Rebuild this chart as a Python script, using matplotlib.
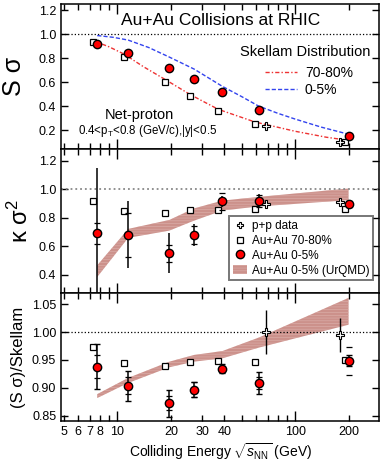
import numpy as np
import matplotlib
matplotlib.use("Agg")
import matplotlib.pyplot as plt
from matplotlib.lines import Line2D
from matplotlib.patches import Patch
from matplotlib.ticker import FixedLocator, FuncFormatter, NullFormatter

plt.rcParams['font.family'] = ['Liberation Sans', 'DejaVu Sans']
plt.rcParams['mathtext.fontset'] = 'custom'
plt.rcParams['mathtext.rm'] = 'Liberation Sans'
plt.rcParams['mathtext.it'] = 'Liberation Sans:italic'
plt.rcParams['hatch.linewidth'] = 0.4

# --- data ---
energy = [7.7, 11.5, 19.6, 27, 39, 62.4, 200]
pp_energy = [62.4, 200]

# S sigma
ss_central = [0.921, 0.846, 0.716, 0.629, 0.515, 0.364, 0.152]
ss_periph = [0.933, 0.808, 0.601, 0.482, 0.359, 0.247, 0.102]
ss_pp = [0.233, 0.097]

# Skellam expectations
skel_c_energy = [7.7, 9.5, 11.5, 15, 19.6, 27, 39, 50, 62.4, 80, 100, 140, 200]
skel_central = [0.99, 0.975, 0.952, 0.89, 0.81, 0.71, 0.565, 0.48, 0.40, 0.34, 0.292, 0.225, 0.165]
skel_p_energy = [7.3, 9.0, 10.9, 14, 18.7, 25.8, 37, 59.3, 100, 150, 187]
skel_periph = [0.948, 0.895, 0.835, 0.73, 0.62, 0.495, 0.373, 0.268, 0.19, 0.14, 0.12]

# kappa sigma^2
ks_central = [0.690, 0.679, 0.551, 0.679, 0.914, 0.918, 0.895]
ks_central_stat = [0.46, 0.235, 0.14, 0.075, 0.04, 0.05, 0.02]
ks_central_sys = [0.075, 0.155, 0.06, 0.065, 0.06, 0.04, 0.02]
ks_periph = [0.918, 0.849, 0.835, 0.853, 0.855, 0.86, 0.86]
ks_pp = [0.895, 0.907]
ks_urqmd_lo = [0.383, 0.658, 0.709, 0.779, 0.85, 0.879, 0.923]
ks_urqmd_hi = [0.465, 0.721, 0.784, 0.865, 0.92, 0.946, 1.005]

# (S sigma)/Skellam
ratio_central = [0.938, 0.904, 0.873, 0.897, 0.934, 0.909, 0.949]
ratio_central_stat = [0.04, 0.027, 0.024, 0.013, 0.008, 0.019, 0.01]
ratio_central_sys = [0.021, 0.015, 0.012, 0.013, 0.006, 0.01, 0.025]
ratio_periph = [0.974, 0.944, 0.940, 0.947, 0.948, 0.947, 0.950]
ratio_pp = [1.0, 0.995]
ratio_pp_stat = [0.04, 0.03]
ratio_urqmd_lo = [0.882, 0.909, 0.937, 0.947, 0.953, 0.972, 1.013]
ratio_urqmd_hi = [0.889, 0.918, 0.947, 0.959, 0.966, 0.99, 1.061]

# small horizontal offsets so the points don't overlap
e = np.array(energy)
e_sq = e * 0.95
e_pp = np.array(pp_energy) * np.array([1.1, 0.9])

band_color = '#cc918b'
band_hatch = '#ddb2ad'
red = '#ff0000'

fig = plt.figure(figsize=(3.89, 4.63), dpi=100)
ax1 = fig.add_axes([0.157, 0.678, 0.8175, 0.3132])
ax2 = fig.add_axes([0.157, 0.367, 0.8175, 0.311])
ax3 = fig.add_axes([0.157, 0.0907, 0.8175, 0.2765])

tick_labels = {5: '5', 6: '6', 7: '7', 8: '8', 20: '20', 30: '30', 40: '40', 200: '200'}

for ax in (ax1, ax2, ax3):
    ax.set_xscale('log')
    ax.set_xlim(4.82, 297)
    ax.xaxis.set_major_locator(FixedLocator([10, 100]))
    ax.xaxis.set_minor_locator(FixedLocator([5, 6, 7, 8, 9, 20, 30, 40, 50, 60, 70, 80, 90, 200]))
    ax.tick_params(which='both', direction='in', top=True, right=True, labelsize=9, width=1)
    ax.tick_params(which='major', length=7)
    ax.tick_params(which='minor', length=4)
    ax.tick_params(axis='y', which='major', length=5)
    for s in ax.spines.values():
        s.set_linewidth(1.1)
    if ax is ax3:
        ax.xaxis.set_major_formatter(FuncFormatter(lambda v, p: '%d' % v))
        ax.xaxis.set_minor_formatter(FuncFormatter(lambda v, p: tick_labels.get(int(round(v)), '')))
    else:
        ax.xaxis.set_major_formatter(NullFormatter())
        ax.xaxis.set_minor_formatter(NullFormatter())

# ---- top panel: S sigma ----
ax1.axhline(1.0, color='black', ls=':', lw=0.9)
ax1.plot(skel_p_energy, skel_periph, color='#ee3333', lw=1, ls=(0, (3, 1.5, 1, 1.5)), label='70-80%')
ax1.plot(skel_c_energy, skel_central, color='#3344ee', lw=1, ls=(0, (3, 1.5)), label='0-5%')
ax1.plot(e_sq, ss_periph, 's', ms=4.5, mfc='white', mec='black', mew=0.9)
ax1.plot(e_pp, ss_pp, 'P', ms=5.5, mfc='white', mec='black', mew=0.8)
ax1.plot(e, ss_central, 'o', ms=6, mfc=red, mec='black', mew=1)
ax1.set_ylim(0.041, 1.253)
ax1.set_yticks([0.2, 0.4, 0.6, 0.8, 1.0, 1.2])
ax1.set_ylabel('S σ', fontsize=18)
ax1.yaxis.set_label_coords(-0.11, 0.5)
ax1.text(0.503, 0.89, 'Au+Au Collisions at RHIC', transform=ax1.transAxes,
         ha='center', va='center', fontsize=12.5)
ax1.text(0.767, 0.669, 'Skellam Distribution', transform=ax1.transAxes,
         ha='center', va='center', fontsize=10.5)
ax1.text(0.245, 0.234, 'Net-proton', transform=ax1.transAxes,
         ha='center', va='center', fontsize=10.5)
ax1.text(0.272, 0.124, r'0.4<p$_{\rm T}$<0.8 (GeV/c),|y|<0.5', transform=ax1.transAxes,
         ha='center', va='center', fontsize=8.3)
ax1.legend(loc='upper left', bbox_to_anchor=(0.64, 0.575), frameon=False, fontsize=10,
           handlelength=2.3, handletextpad=0.6, labelspacing=0.25, borderpad=0, borderaxespad=0)

# ---- middle panel: kappa sigma^2 ----
ax2.axhline(1.0, color='#888888', ls=':', lw=1.3)
ax2.fill_between(e, ks_urqmd_lo, ks_urqmd_hi, facecolor=band_color, edgecolor=band_hatch,
                 hatch='------', lw=0)
ax2.plot(e_sq, ks_periph, 's', ms=4.5, mfc='white', mec='black', mew=0.9)
ax2.plot(e_pp, ks_pp, 'P', ms=5.5, mfc='white', mec='black', mew=0.8)
ax2.errorbar(e, ks_central, yerr=ks_central_sys, fmt='none', ecolor='black',
             elinewidth=0, capsize=2.5, capthick=0.9)
ax2.errorbar(e, ks_central, yerr=ks_central_stat, fmt='o', ms=6, mfc=red, mec='black', mew=1,
             ecolor='black', elinewidth=1.1, capsize=0)
ax2.set_ylim(0.27, 1.282)
ax2.set_yticks([0.4, 0.6, 0.8, 1.0, 1.2])
ax2.set_ylabel('κ σ$^{2}$', fontsize=17)
ax2.yaxis.set_label_coords(-0.09, 0.5)
handles = [Line2D([], [], ls='none', marker='P', ms=5, mfc='white', mec='black', mew=0.8),
           Line2D([], [], ls='none', marker='s', ms=4.5, mfc='white', mec='black', mew=0.9),
           Line2D([], [], ls='none', marker='o', ms=6, mfc=red, mec='black', mew=1),
           Patch(facecolor=band_color, edgecolor=band_hatch, hatch='------', lw=0)]
labels = ['p+p data', 'Au+Au 70-80%', 'Au+Au 0-5%', 'Au+Au 0-5% (UrQMD)']
leg = ax2.legend(handles, labels, loc='lower right', bbox_to_anchor=(0.981, 0.09), fontsize=8.5,
                 frameon=True, fancybox=False, edgecolor='#555555', borderaxespad=0,
                 handlelength=1.2, handletextpad=0.4, labelspacing=0.25, borderpad=0.3)
leg.get_frame().set_linewidth(1.4)

# ---- bottom panel: (S sigma)/Skellam ----
ax3.axhline(1.0, color='black', ls=':', lw=0.9)
ax3.fill_between(e, ratio_urqmd_lo, ratio_urqmd_hi, facecolor=band_color, edgecolor=band_hatch,
                 hatch='------', lw=0)
ax3.plot(e_sq, ratio_periph, 's', ms=4.5, mfc='white', mec='black', mew=0.9)
ax3.errorbar(e_pp, ratio_pp, yerr=ratio_pp_stat, fmt='P', ms=5.5, mfc='white', mec='black',
             mew=0.8, ecolor='black', elinewidth=1, capsize=0)
ax3.errorbar(e, ratio_central, yerr=ratio_central_sys, fmt='none', ecolor='black',
             elinewidth=0, capsize=2.5, capthick=0.9)
ax3.errorbar(e, ratio_central, yerr=ratio_central_stat, fmt='o', ms=6, mfc=red, mec='black', mew=1,
             ecolor='black', elinewidth=1.1, capsize=2, capthick=1)
ax3.set_ylim(0.841, 1.0697)
ax3.set_yticks([0.85, 0.90, 0.95, 1.00, 1.05])
ax3.yaxis.set_major_formatter(FuncFormatter(lambda v, p: '%.2f' % v))
ax3.set_ylabel('(S σ)/Skellam', fontsize=12)
ax3.yaxis.set_label_coords(-0.11, 0.5)
ax3.set_xlabel(r'Colliding Energy $\sqrt{s_{\rm NN}}$ (GeV)', fontsize=10, labelpad=3)

fig.savefig('out.png', dpi=100)
